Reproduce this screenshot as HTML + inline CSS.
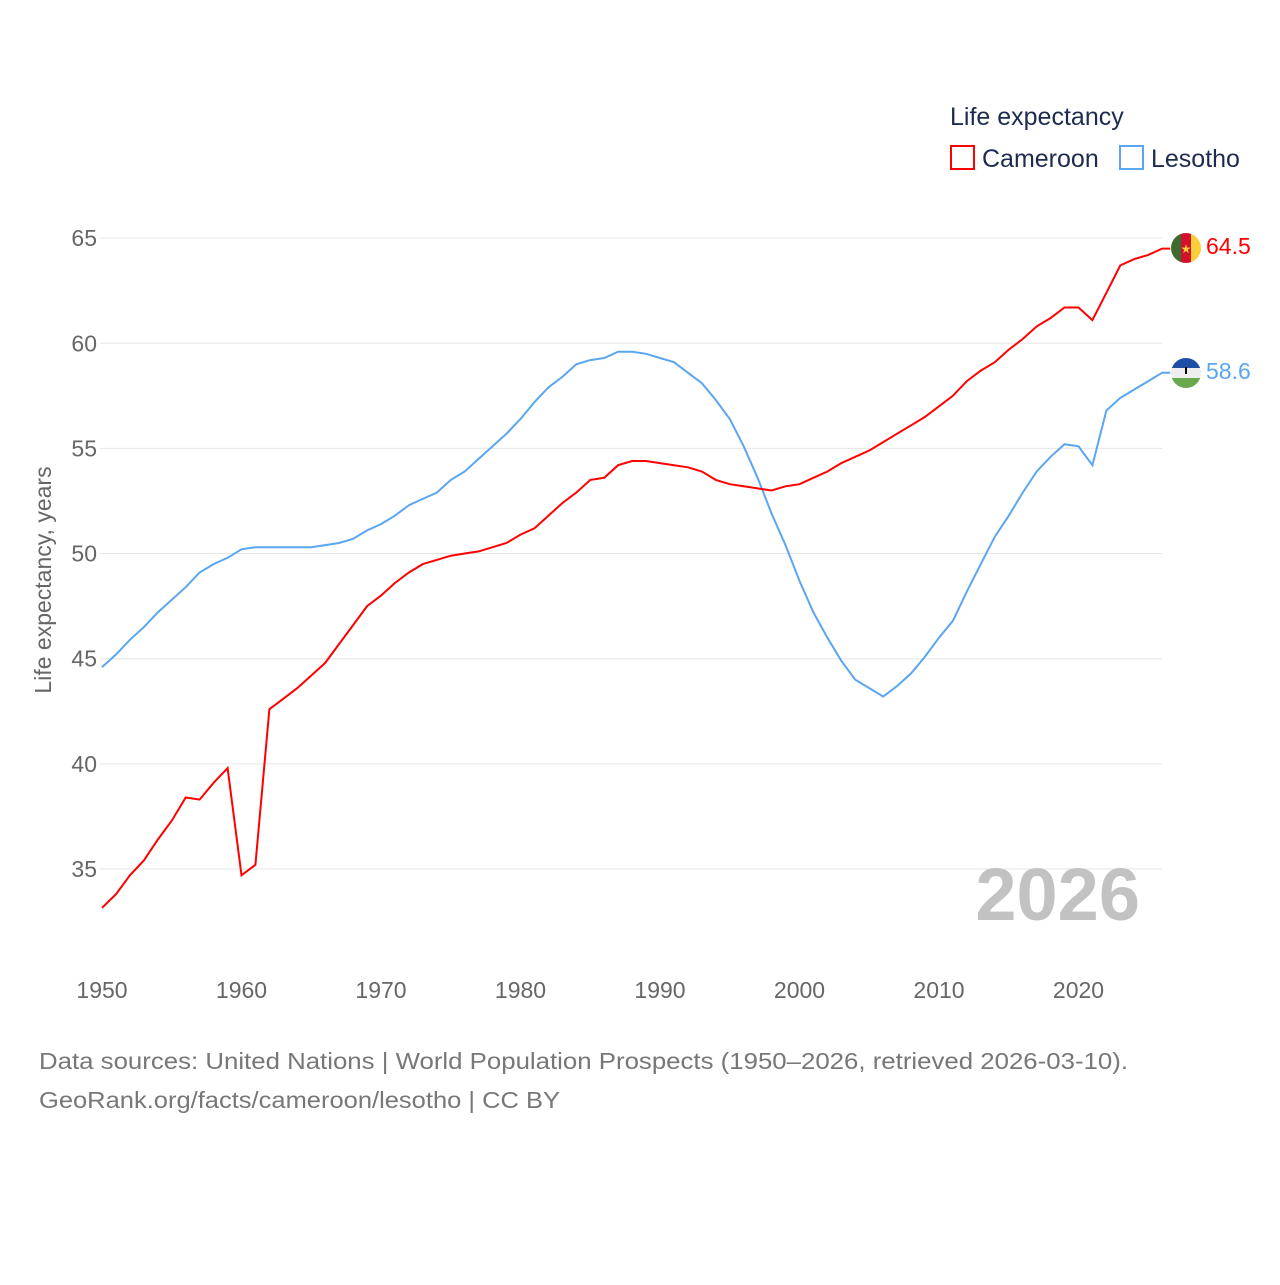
<!DOCTYPE html>
<html><head><meta charset="utf-8"><style>
body{margin:0;background:#fff;width:1280px;height:1280px;overflow:hidden;font-family:"Liberation Sans",sans-serif}
</style></head><body>
<svg id="chart" width="1280" height="1280" viewBox="0 0 1280 1280">
<defs>
<clipPath id="c1"><circle cx="1186" cy="248" r="15"/></clipPath>
<clipPath id="c2"><circle cx="1186" cy="373" r="15"/></clipPath>
</defs>
<g id="grid"></g>
<g id="lines"></g>
<text x="950" y="125" font-size="25" fill="#1d2b4f">Life expectancy</text>
<g><rect x="951" y="146" width="23" height="23" fill="none" stroke="#ff0000" stroke-width="2"/><text x="982" y="167" font-size="25" fill="#1d2b4f">Cameroon</text></g>
<g><rect x="1120" y="146" width="23" height="23" fill="none" stroke="#5aa6f0" stroke-width="2"/><text x="1151" y="167" font-size="25" fill="#1d2b4f">Lesotho</text></g>
<text transform="translate(51,580) rotate(-90)" text-anchor="middle" font-size="23" fill="#666">Life expectancy, years</text>
<text x="1140" y="920" text-anchor="end" font-size="74" font-weight="bold" fill="#c2c2c2">2026</text>
<g clip-path="url(#c1)"><rect x="1171" y="233" width="10" height="30" fill="#3c6b2c"/><rect x="1181" y="233" width="10" height="30" fill="#d2112f"/><rect x="1191" y="233" width="10" height="30" fill="#f9d03a"/><text x="1186" y="253" text-anchor="middle" font-size="12" fill="#f9d03a">★</text></g>
<g clip-path="url(#c2)"><rect x="1171" y="358" width="30" height="10" fill="#1d4fa5"/><rect x="1171" y="368" width="30" height="10" fill="#eee"/><rect x="1171" y="378" width="30" height="10" fill="#6aa84f"/><rect x="1185" y="367" width="2" height="7" fill="#000"/></g>
<text x="1206" y="254" font-size="23" fill="#ff0000">64.5</text>
<text x="1206" y="379" font-size="23" fill="#5aa6f0">58.6</text>
<text x="39" y="1069" font-size="23" fill="#777" textLength="1089" lengthAdjust="spacingAndGlyphs">Data sources: United Nations | World Population Prospects (1950–2026, retrieved 2026-03-10).</text>
<text x="39" y="1108" font-size="23" fill="#777" textLength="521" lengthAdjust="spacingAndGlyphs">GeoRank.org/facts/cameroon/lesotho | CC BY</text>
</svg>
<script>
const years = [];
for (let y = 1950; y <= 2026; y++) years.push(y);
const cameroon = [33.15,33.8,34.7,35.4,36.4,37.3,38.4,38.3,39.1,39.8,34.7,35.2,42.6,43.1,43.6,44.2,44.8,45.7,46.6,47.5,48.0,48.6,49.1,49.5,49.7,49.9,50.0,50.1,50.3,50.5,50.9,51.2,51.8,52.4,52.9,53.5,53.6,54.2,54.4,54.4,54.3,54.2,54.1,53.9,53.5,53.3,53.2,53.1,53.0,53.2,53.3,53.6,53.9,54.3,54.6,54.9,55.3,55.7,56.1,56.5,57.0,57.5,58.2,58.7,59.1,59.7,60.2,60.8,61.2,61.7,61.7,61.1,62.4,63.7,64.0,64.2,64.5];
const lesotho = [44.6,45.2,45.9,46.5,47.2,47.8,48.4,49.1,49.5,49.8,50.2,50.3,50.3,50.3,50.3,50.3,50.4,50.5,50.7,51.1,51.4,51.8,52.3,52.6,52.9,53.5,53.9,54.5,55.1,55.7,56.4,57.2,57.9,58.4,59.0,59.2,59.3,59.6,59.6,59.5,59.3,59.1,58.6,58.1,57.3,56.4,55.1,53.6,51.9,50.4,48.7,47.2,46.0,44.9,44.0,43.6,43.2,43.7,44.3,45.1,46.0,46.8,48.2,49.5,50.8,51.8,52.9,53.9,54.6,55.2,55.1,54.2,56.8,57.4,57.8,58.2,58.6];
const yTicks = [35,40,45,50,55,60,65];
const xTicks = [1950,1960,1970,1980,1990,2000,2010,2020];
const xs = y => 102 + (y - 1950) * 13.95;
const ys = v => 869 - (v - 35) * 21.03;
const NS = "http://www.w3.org/2000/svg";
const grid = document.getElementById('grid'), lines = document.getElementById('lines');
yTicks.forEach(t => {
  const l = document.createElementNS(NS, 'line');
  l.setAttribute('x1', 100); l.setAttribute('x2', 1162); l.setAttribute('y1', ys(t)); l.setAttribute('y2', ys(t));
  l.setAttribute('stroke', '#e6e6e6');
  
  
  grid.appendChild(l);
  const tx = document.createElementNS(NS, 'text');
  tx.setAttribute('x', 97); tx.setAttribute('y', ys(t) + 8); tx.setAttribute('text-anchor', 'end');
  tx.setAttribute('font-size', '23'); tx.setAttribute('fill', '#666'); tx.textContent = t;
  
  
  grid.appendChild(tx);
});
xTicks.forEach(t => {
  const tx = document.createElementNS(NS, 'text');
  tx.setAttribute('x', xs(t)); tx.setAttribute('y', 998); tx.setAttribute('text-anchor', 'middle');
  tx.setAttribute('font-size', '23'); tx.setAttribute('fill', '#666'); tx.textContent = t;
  
  
  grid.appendChild(tx);
});
function drawLine(vals, color, name) {
  const p = document.createElementNS(NS, 'path');
  let d = vals.map((v, i) => (i ? 'L' : 'M') + xs(years[i]).toFixed(1) + ',' + ys(v).toFixed(1)).join('');
  d += 'L' + (xs(2026) + 8).toFixed(1) + ',' + ys(vals[vals.length - 1]).toFixed(1);
  p.setAttribute('d', d); p.setAttribute('fill', 'none'); p.setAttribute('stroke', color); p.setAttribute('stroke-width', '2');
  
  
  lines.appendChild(p);
}
drawLine(lesotho, '#5aa6f0', 'lesotho-line');
drawLine(cameroon, '#ff0000', 'cameroon-line');
</script>
</body></html>
